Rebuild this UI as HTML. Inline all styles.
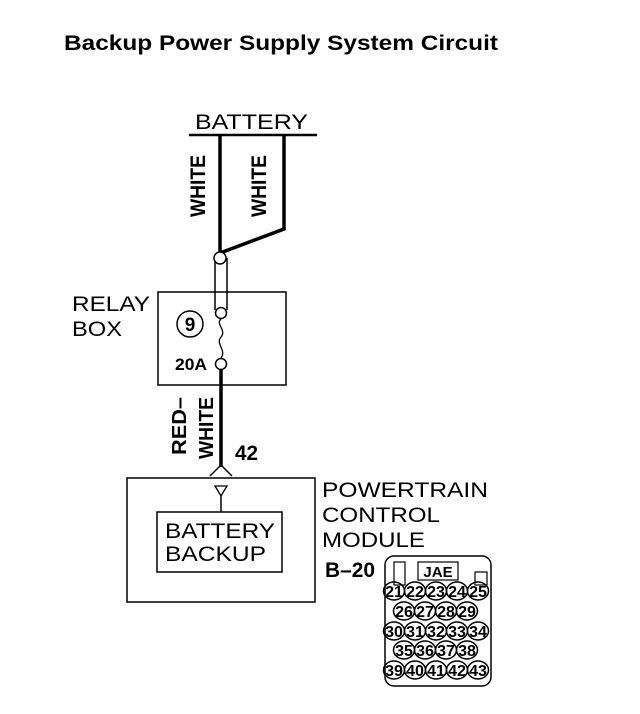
<!DOCTYPE html>
<html><head><style>body{margin:0;background:#fff}svg{display:block}text{font-family:"Liberation Sans",sans-serif;fill:#000}</style></head><body>
<svg width="640" height="714" viewBox="0 0 640 714" xmlns="http://www.w3.org/2000/svg">
<text x="64" y="50" font-size="21" font-weight="bold" textLength="434" lengthAdjust="spacingAndGlyphs">Backup Power Supply System Circuit</text>
<text x="195" y="129" font-size="21" textLength="113" lengthAdjust="spacingAndGlyphs">BATTERY</text>
<line x1="189" y1="135" x2="317" y2="135" stroke="#000" stroke-width="2.5"/>
<polyline points="220,135 220,253" fill="none" stroke="#000" stroke-width="3.5"/>
<polyline points="284,135 284,229 220,253" fill="none" stroke="#000" stroke-width="3.5"/>
<text transform="translate(205,186) rotate(-90)" text-anchor="middle" font-size="21" font-weight="bold" textLength="62" lengthAdjust="spacingAndGlyphs">WHITE</text>
<text transform="translate(266,186) rotate(-90)" text-anchor="middle" font-size="21" font-weight="bold" textLength="62" lengthAdjust="spacingAndGlyphs">WHITE</text>
<line x1="215" y1="258" x2="215" y2="310" stroke="#000" stroke-width="1.5"/>
<line x1="227" y1="258" x2="227" y2="310" stroke="#000" stroke-width="1.5"/>
<circle cx="220" cy="258" r="6" fill="#fff" stroke="#000" stroke-width="1.5"/>
<rect x="158" y="292" width="128" height="93" fill="none" stroke="#000" stroke-width="1.5"/>
<circle cx="221" cy="313" r="5.5" fill="#fff" stroke="#000" stroke-width="1.5"/>
<path d="M221,319 C215,324 227,330 221,337 C215,344 227,350 221,358" fill="none" stroke="#000" stroke-width="1.3"/>
<circle cx="221" cy="364" r="5.5" fill="#fff" stroke="#000" stroke-width="1.5"/>
<circle cx="190" cy="324" r="13" fill="none" stroke="#000" stroke-width="1.5"/>
<text x="190" y="331" text-anchor="middle" font-size="19" font-weight="bold">9</text>
<text x="175" y="370" font-size="17" font-weight="bold" textLength="32" lengthAdjust="spacingAndGlyphs">20A</text>
<text x="72" y="311" font-size="21" textLength="78" lengthAdjust="spacingAndGlyphs">RELAY</text>
<text x="72" y="336" font-size="21" textLength="50" lengthAdjust="spacingAndGlyphs">BOX</text>
<line x1="221" y1="369" x2="221" y2="467" stroke="#000" stroke-width="3.5"/>
<polyline points="210,476 221,465 232,476" fill="none" stroke="#000" stroke-width="1.5"/>
<text transform="translate(186,426) rotate(-90)" text-anchor="middle" font-size="20" font-weight="bold" textLength="58" lengthAdjust="spacingAndGlyphs">RED–</text>
<text transform="translate(213,428) rotate(-90)" text-anchor="middle" font-size="20" font-weight="bold" textLength="62" lengthAdjust="spacingAndGlyphs">WHITE</text>
<text x="235" y="460" font-size="21" font-weight="bold" textLength="23" lengthAdjust="spacingAndGlyphs">42</text>
<rect x="127" y="478" width="188" height="124" fill="none" stroke="#000" stroke-width="1.5"/>
<polygon points="215,486 227,486 221,496" fill="none" stroke="#000" stroke-width="1.3"/>
<line x1="221" y1="496" x2="221" y2="512" stroke="#000" stroke-width="1.5"/>
<rect x="157" y="512" width="125" height="60" fill="none" stroke="#000" stroke-width="1.5"/>
<text x="165" y="538" font-size="21" textLength="110" lengthAdjust="spacingAndGlyphs">BATTERY</text>
<text x="165" y="561" font-size="21" textLength="101" lengthAdjust="spacingAndGlyphs">BACKUP</text>
<text x="322" y="497" font-size="21" textLength="166" lengthAdjust="spacingAndGlyphs">POWERTRAIN</text>
<text x="322" y="522" font-size="21" textLength="118" lengthAdjust="spacingAndGlyphs">CONTROL</text>
<text x="322" y="547" font-size="21" textLength="103" lengthAdjust="spacingAndGlyphs">MODULE</text>
<text x="325" y="577" font-size="21" font-weight="bold" textLength="50" lengthAdjust="spacingAndGlyphs">B–20</text>
<rect x="385" y="556" width="106" height="130" rx="9" fill="none" stroke="#000" stroke-width="1.5"/>
<rect x="394" y="562" width="11" height="23" fill="none" stroke="#000" stroke-width="1.2"/>
<rect x="418" y="562" width="40" height="18" fill="none" stroke="#000" stroke-width="1.2"/>
<text x="438" y="577" text-anchor="middle" font-size="15" font-weight="bold">JAE</text>
<rect x="475" y="572" width="12" height="13" fill="none" stroke="#000" stroke-width="1.2"/>
<g stroke="#000" stroke-width="1.5" fill="none">
<ellipse cx="394" cy="591" rx="10.5" ry="9"/><ellipse cx="415" cy="591" rx="10.5" ry="9"/><ellipse cx="436" cy="591" rx="10.5" ry="9"/><ellipse cx="457" cy="591" rx="10.5" ry="9"/><ellipse cx="478" cy="591" rx="10.5" ry="9"/>
<ellipse cx="404" cy="611" rx="10.5" ry="9"/><ellipse cx="425" cy="611" rx="10.5" ry="9"/><ellipse cx="446" cy="611" rx="10.5" ry="9"/><ellipse cx="467" cy="611" rx="10.5" ry="9"/>
<ellipse cx="394" cy="631" rx="10.5" ry="9"/><ellipse cx="415" cy="631" rx="10.5" ry="9"/><ellipse cx="436" cy="631" rx="10.5" ry="9"/><ellipse cx="457" cy="631" rx="10.5" ry="9"/><ellipse cx="478" cy="631" rx="10.5" ry="9"/>
<ellipse cx="404" cy="650" rx="10.5" ry="9"/><ellipse cx="425" cy="650" rx="10.5" ry="9"/><ellipse cx="446" cy="650" rx="10.5" ry="9"/><ellipse cx="467" cy="650" rx="10.5" ry="9"/>
<ellipse cx="394" cy="670" rx="10.5" ry="9"/><ellipse cx="415" cy="670" rx="10.5" ry="9"/><ellipse cx="436" cy="670" rx="10.5" ry="9"/><ellipse cx="457" cy="670" rx="10.5" ry="9"/><ellipse cx="478" cy="670" rx="10.5" ry="9"/>
</g>
<g font-size="16" font-weight="bold" text-anchor="middle">
<text x="394" y="597">21</text><text x="415" y="597">22</text><text x="436" y="597">23</text><text x="457" y="597">24</text><text x="478" y="597">25</text>
<text x="404" y="617">26</text><text x="425" y="617">27</text><text x="446" y="617">28</text><text x="467" y="617">29</text>
<text x="394" y="637">30</text><text x="415" y="637">31</text><text x="436" y="637">32</text><text x="457" y="637">33</text><text x="478" y="637">34</text>
<text x="404" y="656">35</text><text x="425" y="656">36</text><text x="446" y="656">37</text><text x="467" y="656">38</text>
<text x="394" y="676">39</text><text x="415" y="676">40</text><text x="436" y="676">41</text><text x="457" y="676">42</text><text x="478" y="676">43</text>
</g>
</svg>
</body></html>
